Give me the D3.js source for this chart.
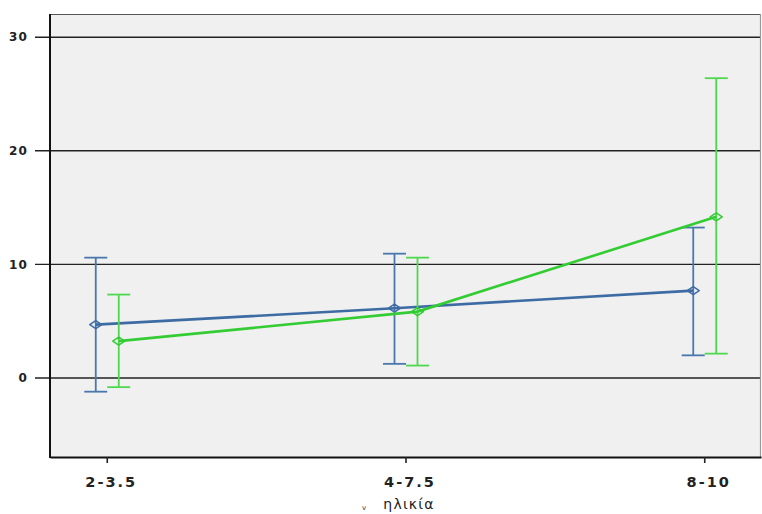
<!DOCTYPE html>
<html><head><meta charset="utf-8">
<script src="https://cdn.jsdelivr.net/npm/d3@7"></script>
<style>
html,body{margin:0;padding:0;background:#fff;}
svg{display:block;}
</style></head>
<body><svg id="c" width="762" height="514"></svg>
<script>
const categories = ["2-3.5", "4-7.5", "8-10"];
const yTicks = [0, 10, 20, 30];
const blueMean = [4.65, 6.1, 7.65];
const blueLow = [-1.25, 1.2, 1.95];
const blueHigh = [10.55, 10.9, 13.2];
const greenMean = [3.2, 5.8, 14.15];
const greenLow = [-0.85, 1.05, 2.1];
const greenHigh = [7.3, 10.55, 26.35];
const xTitle = "ηλικία";

const svg = d3.select("#c");
const L = 50, R = 761, T = 14, B = 457;
const x = d3.scalePoint().domain(categories).range([L, R]).padding(0.19);
const y = d3.scaleLinear().domain([-7, 32]).range([B, T]);

svg.append("rect").attr("x", L).attr("y", T).attr("width", R - L).attr("height", B - T).attr("fill", "#f0f0f0");

// gridlines + y axis
const yAxis = d3.axisLeft(y).tickValues(yTicks).tickSize(R - 35).tickSizeOuter(0).tickPadding(7).tickFormat(d3.format("d"));
const gy = svg.append("g").attr("transform", `translate(${R},0)`).call(yAxis);
gy.select(".domain").remove();
gy.selectAll(".tick line").attr("stroke", "#222").attr("stroke-width", 1.4);
gy.selectAll(".tick text").attr("font-family", "DejaVu Sans").attr("font-size", 12).attr("fill", "#222")
  .attr("font-weight", "600").attr("letter-spacing", "1.2px").attr("dy", "0.35em");

// frame
svg.append("line").attr("x1", L).attr("x2", R).attr("y1", T + 0.5).attr("y2", T + 0.5).attr("stroke", "#555").attr("stroke-width", 1.2);
svg.append("line").attr("x1", R - 0.5).attr("x2", R - 0.5).attr("y1", T).attr("y2", B).attr("stroke", "#999").attr("stroke-width", 1.2);
svg.append("line").attr("x1", L).attr("x2", L).attr("y1", T).attr("y2", B + 1).attr("stroke", "#111").attr("stroke-width", 2);

// x axis
const xAxis = d3.axisBottom(x).tickSize(6).tickSizeOuter(0).tickPadding(14);
const gx = svg.append("g").attr("transform", `translate(0,${B})`).call(xAxis);
gx.select(".domain").attr("stroke", "#111").attr("stroke-width", 1.8);
gx.selectAll(".tick line").attr("stroke", "#222").attr("stroke-width", 1.6);
gx.selectAll(".tick text").attr("font-family", "DejaVu Sans").attr("font-size", 14.5).attr("fill", "#222")
  .attr("font-weight", "600").attr("letter-spacing", "2px").attr("dx", "4");

svg.append("text").attr("x", 409).attr("y", 509).attr("text-anchor", "middle")
  .attr("font-family", "DejaVu Sans").attr("font-size", 14).attr("fill", "#222").attr("letter-spacing", "1.2px").text(xTitle);
svg.append("text").attr("x", 364).attr("y", 510).attr("text-anchor", "middle")
  .attr("font-family", "DejaVu Sans").attr("font-size", 7).attr("fill", "#333").text("v");

const series = [
  {mean: blueMean, low: blueLow, high: blueHigh, off: -11, line: "#3d6ba3", bar: "#4a78ad"},
  {mean: greenMean, low: greenLow, high: greenHigh, off: 12, line: "#33cc33", bar: "#4fd84f"}
];
const capW = 11.5;
series.forEach(s => {
  const pts = categories.map((c, i) => ({x: x(c) + s.off, i}));
  const g = svg.append("g");
  pts.forEach(p => {
    g.append("line").attr("x1", p.x).attr("x2", p.x).attr("y1", y(s.low[p.i])).attr("y2", y(s.high[p.i]))
      .attr("stroke", s.bar).attr("stroke-width", 1.8);
    [s.low[p.i], s.high[p.i]].forEach(v => {
      g.append("line").attr("x1", p.x - capW).attr("x2", p.x + capW).attr("y1", y(v)).attr("y2", y(v))
        .attr("stroke", s.bar).attr("stroke-width", 1.8);
    });
  });
  g.append("path").datum(pts)
    .attr("d", d3.line().x(p => p.x).y(p => y(s.mean[p.i])))
    .attr("fill", "none").attr("stroke", s.line).attr("stroke-width", 2.6);
  pts.forEach(p => {
    const cx = p.x, cy = y(s.mean[p.i]);
    g.append("path").attr("d", `M${cx-6},${cy} L${cx},${cy-4} L${cx+6},${cy} L${cx},${cy+4} Z`)
      .attr("fill", "none").attr("stroke", s.line).attr("stroke-width", 1.5).attr("stroke-linejoin", "round");
  });
});
</script></body></html>
